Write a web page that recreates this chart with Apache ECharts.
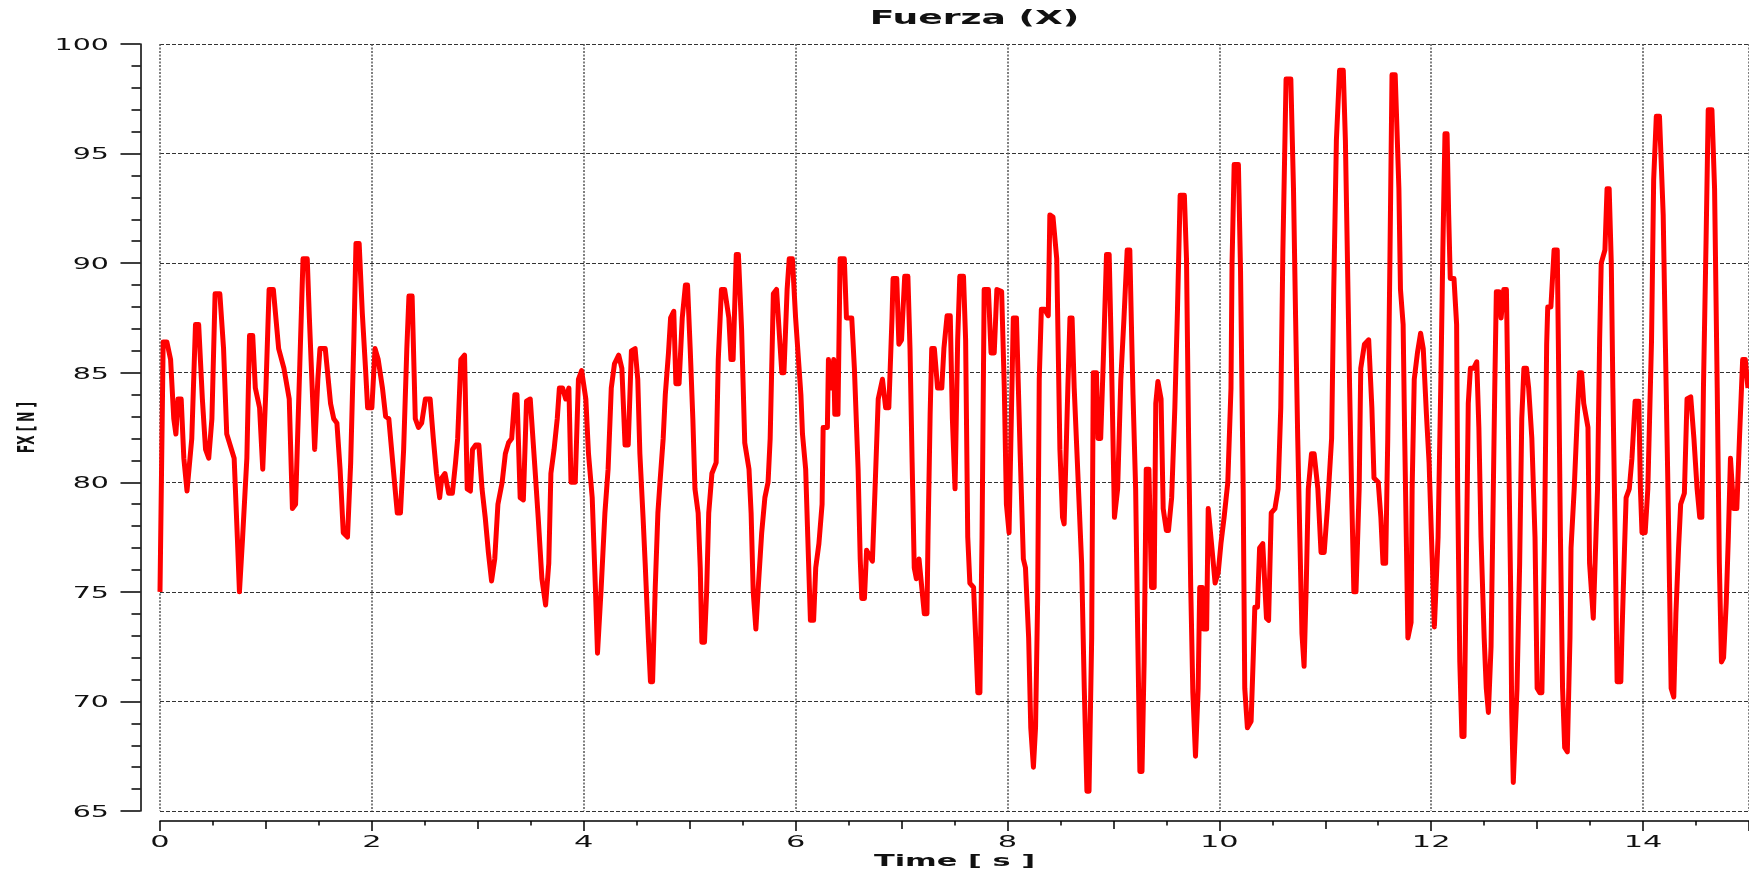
<!DOCTYPE html>
<html>
<head>
<meta charset="utf-8">
<title>Fuerza (X)</title>
<script src="https://cdn.jsdelivr.net/npm/echarts@6/dist/echarts.min.js"></script>
<style>
    html, body { margin: 0; padding: 0; background: #fff; }
    #chart { width: 1749px; height: 877px; }
</style>
</head>
<body>
<div id="chart"></div>
<script>
// force trace (t in s, FX in N)
const time = [
    0, 0.03, 0.065, 0.1, 0.13, 0.15, 0.17, 0.2, 0.225, 0.255,
    0.27, 0.3, 0.335, 0.365, 0.4, 0.43, 0.46, 0.49, 0.52, 0.565,
    0.6, 0.63, 0.7, 0.73, 0.75, 0.78, 0.82, 0.845, 0.875, 0.9,
    0.94, 0.97, 1.0, 1.03, 1.07, 1.12, 1.17, 1.22, 1.25, 1.28,
    1.32, 1.35, 1.39, 1.41, 1.46, 1.49, 1.51, 1.56, 1.61, 1.64,
    1.67, 1.7, 1.73, 1.77, 1.8, 1.83, 1.85, 1.88, 1.91, 1.94,
    1.96, 2.0, 2.03, 2.06, 2.1, 2.13, 2.16, 2.21, 2.24, 2.27,
    2.3, 2.33, 2.35, 2.38, 2.41, 2.44, 2.47, 2.505, 2.55, 2.58,
    2.61, 2.64, 2.66, 2.69, 2.725, 2.76, 2.79, 2.81, 2.84, 2.875,
    2.9, 2.93, 2.95, 2.98, 3.01, 3.04, 3.07, 3.1, 3.13, 3.16,
    3.19, 3.23, 3.26, 3.29, 3.32, 3.35, 3.37, 3.4, 3.43, 3.46,
    3.495, 3.54, 3.57, 3.605, 3.64, 3.67, 3.69, 3.72, 3.75, 3.77,
    3.8, 3.83, 3.86, 3.88, 3.92, 3.95, 3.98, 4.02, 4.045, 4.08,
    4.11, 4.13, 4.165, 4.2, 4.23, 4.26, 4.29, 4.33, 4.36, 4.39,
    4.42, 4.45, 4.485, 4.51, 4.53, 4.56, 4.58, 4.61, 4.63, 4.65,
    4.675, 4.7, 4.72, 4.75, 4.77, 4.8, 4.82, 4.85, 4.87, 4.9,
    4.93, 4.96, 4.98, 5.005, 5.03, 5.05, 5.08, 5.1, 5.115, 5.14,
    5.16, 5.18, 5.21, 5.25, 5.27, 5.3, 5.33, 5.37, 5.39, 5.41,
    5.44, 5.46, 5.49, 5.52, 5.56, 5.58, 5.6, 5.625, 5.65, 5.68,
    5.71, 5.74, 5.76, 5.79, 5.82, 5.85, 5.87, 5.89, 5.92, 5.94,
    5.97, 6.0, 6.03, 6.05, 6.065, 6.095, 6.115, 6.14, 6.17, 6.19,
    6.22, 6.25, 6.26, 6.3, 6.31, 6.335, 6.36, 6.37, 6.4, 6.42,
    6.46, 6.48, 6.53, 6.555, 6.59, 6.61, 6.625, 6.65, 6.67, 6.725,
    6.75, 6.78, 6.82, 6.85, 6.88, 6.91, 6.92, 6.955, 6.975, 7.0,
    7.03, 7.06, 7.08, 7.1, 7.12, 7.14, 7.165, 7.18, 7.215, 7.24,
    7.25, 7.27, 7.285, 7.31, 7.34, 7.38, 7.4, 7.43, 7.46, 7.48,
    7.505, 7.53, 7.55, 7.585, 7.605, 7.625, 7.645, 7.68, 7.7, 7.72,
    7.74, 7.76, 7.78, 7.82, 7.845, 7.875, 7.9, 7.945, 7.97, 7.99,
    8.015, 8.03, 8.055, 8.085, 8.12, 8.15, 8.17, 8.2, 8.22, 8.245,
    8.265, 8.285, 8.3, 8.32, 8.35, 8.385, 8.4, 8.43, 8.465, 8.495,
    8.52, 8.535, 8.57, 8.59, 8.61, 8.63, 8.66, 8.7, 8.725, 8.75,
    8.77, 8.795, 8.81, 8.84, 8.855, 8.88, 8.905, 8.935, 8.96, 8.98,
    9.01, 9.04, 9.07, 9.1, 9.13, 9.155, 9.17, 9.185, 9.21, 9.23,
    9.25, 9.27, 9.29, 9.31, 9.335, 9.36, 9.385, 9.4, 9.42, 9.45,
    9.47, 9.5, 9.52, 9.55, 9.58, 9.605, 9.63, 9.67, 9.69, 9.71,
    9.73, 9.75, 9.775, 9.8, 9.815, 9.84, 9.85, 9.88, 9.895, 9.91,
    9.93, 9.96, 9.99, 10.015, 10.045, 10.08, 10.11, 10.12, 10.14, 10.18,
    10.2, 10.225, 10.24, 10.265, 10.3, 10.32, 10.335, 10.36, 10.38, 10.41,
    10.445, 10.465, 10.49, 10.525, 10.555, 10.58, 10.6, 10.63, 10.675, 10.7,
    10.72, 10.74, 10.76, 10.78, 10.8, 10.82, 10.84, 10.87, 10.895, 10.93,
    10.96, 10.99, 11.02, 11.06, 11.08, 11.105, 11.135, 11.17, 11.19, 11.21,
    11.23, 11.25, 11.27, 11.29, 11.32, 11.335, 11.37, 11.41, 11.44, 11.46,
    11.5, 11.525, 11.545, 11.57, 11.59, 11.61, 11.63, 11.66, 11.695, 11.71,
    11.735, 11.75, 11.765, 11.78, 11.81, 11.82, 11.84, 11.87, 11.9, 11.925,
    11.955, 11.98, 12.0, 12.03, 12.065, 12.09, 12.11, 12.13, 12.15, 12.165,
    12.18, 12.215, 12.24, 12.25, 12.27, 12.29, 12.31, 12.33, 12.35, 12.37,
    12.4, 12.43, 12.45, 12.47, 12.5, 12.52, 12.54, 12.565, 12.58, 12.6,
    12.615, 12.64, 12.66, 12.685, 12.71, 12.73, 12.75, 12.76, 12.775, 12.79,
    12.81, 12.835, 12.855, 12.875, 12.9, 12.92, 12.95, 12.98, 13.0, 13.025,
    13.045, 13.07, 13.09, 13.1, 13.13, 13.16, 13.19, 13.2, 13.22, 13.24,
    13.26, 13.285, 13.31, 13.32, 13.35, 13.38, 13.4, 13.42, 13.44, 13.48,
    13.495, 13.53, 13.545, 13.57, 13.59, 13.605, 13.64, 13.66, 13.68, 13.7,
    13.715, 13.74, 13.755, 13.79, 13.8, 13.825, 13.84, 13.87, 13.895, 13.925,
    13.96, 13.975, 13.99, 14.02, 14.045, 14.08, 14.1, 14.125, 14.155, 14.19,
    14.21, 14.235, 14.25, 14.265, 14.29, 14.31, 14.335, 14.355, 14.39, 14.415,
    14.45, 14.48, 14.51, 14.535, 14.555, 14.57, 14.595, 14.615, 14.65, 14.675,
    14.7, 14.72, 14.74, 14.76, 14.785, 14.805, 14.825, 14.84, 14.855, 14.885,
    14.91, 14.94, 14.965, 14.99
];

const fx = [
    75.0, 86.4, 86.4, 85.6, 82.9, 82.2, 83.8, 83.8, 81.1, 79.6,
    79.6, 82.0, 87.2, 87.2, 83.8, 81.5, 81.1, 82.9, 88.6, 88.6,
    86.1, 82.2, 81.1, 77.5, 75.0, 77.5, 81.1, 86.7, 86.7, 84.3,
    83.4, 80.6, 84.3, 88.8, 88.8, 86.1, 85.2, 83.8, 78.8, 79.0,
    85.4, 90.2, 90.2, 87.5, 81.5, 84.7, 86.1, 86.1, 83.6, 82.9,
    82.7, 80.6, 77.7, 77.5, 80.9, 86.5, 90.9, 90.9, 87.7, 85.2,
    83.4, 83.4, 86.1, 85.6, 84.3, 83.0, 82.9, 80.2, 78.6, 78.6,
    81.5, 86.1, 88.5, 88.5, 82.9, 82.5, 82.7, 83.8, 83.8, 82.0,
    80.4, 79.3, 80.2, 80.4, 79.5, 79.5, 80.9, 82.0, 85.6, 85.8,
    79.7, 79.6, 81.5, 81.7, 81.7, 79.7, 78.4, 76.8, 75.5, 76.5,
    79.0, 80.0, 81.3, 81.8, 82.0, 84.0, 84.0, 79.3, 79.2, 83.7,
    83.8, 80.6, 78.4, 75.6, 74.4, 76.3, 80.4, 81.5, 82.9, 84.3,
    84.3, 83.8, 84.3, 80.0, 80.0, 84.7, 85.1, 83.8, 81.3, 79.3,
    75.2, 72.2, 75.2, 78.6, 80.6, 84.3, 85.4, 85.8, 85.2, 81.7,
    81.7, 86.0, 86.1, 84.7, 81.3, 78.4, 76.3, 72.9, 70.9, 70.9,
    75.2, 78.6, 80.0, 82.0, 84.0, 85.9, 87.5, 87.8, 84.5, 84.5,
    87.5, 89.0, 89.0, 86.1, 82.9, 79.7, 78.6, 76.1, 72.7, 72.7,
    75.0, 78.6, 80.4, 80.9, 85.6, 88.8, 88.8, 87.5, 85.6, 85.6,
    90.4, 90.4, 87.0, 81.8, 80.6, 78.6, 75.0, 73.3, 75.4, 77.7,
    79.3, 80.0, 82.0, 88.6, 88.8, 86.5, 85.0, 85.0, 88.8, 90.2,
    90.2, 87.5, 85.4, 84.0, 82.2, 80.6, 77.5, 73.7, 73.7, 76.1,
    77.2, 79.0, 82.5, 82.5, 85.6, 84.3, 85.6, 83.1, 83.1, 90.2,
    90.2, 87.5, 87.5, 85.2, 80.6, 76.5, 74.7, 74.7, 76.9, 76.4,
    79.7, 83.8, 84.7, 83.4, 83.4, 87.5, 89.3, 89.3, 86.3, 86.5,
    89.4, 89.4, 86.1, 80.9, 76.1, 75.6, 76.5, 76.5, 74.0, 74.0,
    77.5, 83.1, 86.1, 86.1, 84.3, 84.3, 86.1, 87.6, 87.6, 82.9,
    79.7, 86.5, 89.4, 89.4, 86.5, 77.5, 75.4, 75.2, 72.9, 70.4,
    70.4, 77.5, 88.8, 88.8, 85.9, 85.9, 88.8, 88.7, 84.3, 79.0,
    77.7, 77.7, 87.5, 87.5, 81.3, 76.5, 76.1, 72.9, 68.8, 67.0,
    68.8, 74.7, 84.7, 87.9, 87.9, 87.6, 92.2, 92.1, 90.2, 81.5,
    78.4, 78.1, 84.3, 87.5, 87.5, 84.3, 80.9, 76.3, 70.6, 65.9,
    65.9, 72.9, 85.0, 85.0, 82.0, 82.0, 85.6, 90.4, 90.4, 86.1,
    78.4, 79.7, 84.7, 87.5, 90.6, 90.6, 87.2, 84.0, 79.7, 72.9,
    66.8, 66.8, 71.8, 80.6, 80.6, 75.2, 75.2, 83.6, 84.6, 83.8,
    78.8, 77.8, 77.8, 79.3, 83.4, 87.9, 93.1, 93.1, 90.2, 82.0,
    75.2, 70.4, 67.5, 70.6, 75.2, 75.2, 73.3, 73.3, 78.8, 78.8,
    77.0, 75.4, 75.9, 77.2, 78.4, 80.0, 84.3, 90.0, 94.5, 94.5,
    89.7, 79.7, 70.6, 68.8, 69.1, 72.0, 74.3, 74.3, 77.0, 77.2,
    73.8, 73.7, 78.6, 78.8, 79.7, 83.4, 90.6, 98.4, 98.4, 93.4,
    87.5, 82.0, 77.5, 73.1, 71.6, 75.2, 79.7, 81.3, 81.3, 79.7,
    76.8, 76.8, 78.8, 82.0, 88.8, 95.6, 98.8, 98.8, 95.6, 90.0,
    84.3, 79.3, 75.0, 75.0, 79.7, 85.2, 86.3, 86.5, 83.4, 80.2,
    80.0, 78.4, 76.3, 76.3, 82.0, 90.0, 98.6, 98.6, 93.4, 88.8,
    87.2, 82.0, 77.5, 72.9, 73.6, 79.7, 84.7, 85.9, 86.8, 86.1,
    83.1, 80.9, 77.9, 73.4, 77.5, 84.3, 90.6, 95.9, 95.9, 92.2,
    89.3, 89.3, 87.2, 79.7, 71.8, 68.4, 68.4, 75.6, 83.6, 85.2,
    85.2, 85.5, 82.5, 77.5, 72.9, 70.6, 69.5, 72.5, 77.5, 84.3,
    88.7, 88.7, 87.5, 88.8, 88.8, 82.0, 75.2, 69.5, 66.3, 66.3,
    70.6, 76.3, 82.9, 85.2, 85.2, 84.3, 82.0, 77.5, 70.6, 70.4,
    70.4, 77.5, 86.3, 88.0, 88.0, 90.6, 90.6, 86.5, 77.5, 70.6,
    67.9, 67.7, 72.9, 77.0, 79.7, 83.1, 85.0, 85.0, 83.6, 82.5,
    76.3, 73.8, 73.8, 79.7, 86.5, 90.0, 90.6, 93.4, 93.4, 90.0,
    84.3, 76.3, 70.9, 70.9, 72.9, 77.0, 79.3, 79.7, 81.1, 83.7,
    83.7, 79.7, 77.7, 77.7, 79.7, 86.5, 93.8, 96.7, 96.7, 92.2,
    86.5, 79.7, 75.2, 70.6, 70.2, 74.0, 77.0, 79.0, 79.5, 83.8,
    83.9, 82.0, 79.7, 78.4, 78.4, 84.3, 91.1, 97.0, 97.0, 93.4,
    84.3, 76.3, 71.8, 72.0, 74.5, 77.5, 81.1, 81.1, 78.8, 78.8,
    82.0, 85.6, 85.6, 84.3
];

const xTickLabels = [0, 2, 4, 6, 8, 10, 12, 14];
const yTickLabels = [65, 70, 75, 80, 85, 90, 95, 100];

const chartTitle = 'Fuerza (X)';
const xName = 'Time [ s ]';
const yName = 'FX [ N ]';

// the reference is a screenshot stretched sideways, its lettering is wide
const STRETCH = 1.9;
const FONT = '"DejaVu Sans", Verdana, sans-serif';
const INK = '#111';

const chartDom = document.getElementById('chart');
const chart = echarts.init(chartDom);

const tickOnlyAxis = (interval, length) => ({
    type: 'value',
    min: 0,
    max: 15,
    interval: interval,
    position: 'bottom',
    offset: 10,
    axisLine: { show: false },
    axisTick: { show: true, length: length, lineStyle: { color: '#000', width: 1.5 } },
    axisLabel: { show: false },
    splitLine: { show: false }
});

const options = {
    backgroundColor: '#fff',
    animation: false,
    grid: {
        left: 160,
        right: 0,
        top: 44,
        bottom: 66,
        containLabel: false,
        outerBoundsMode: 'none'
    },
    xAxis: [
        {
            type: 'value',
            min: 0,
            max: 15,
            interval: 2,
            position: 'bottom',
            offset: 10,
            axisLine: { show: true, onZero: false, lineStyle: { color: '#000', width: 1.5 } },
            axisTick: { show: true, length: 10, lineStyle: { color: '#000', width: 1.5 } },
            axisLabel: { show: false },
            splitLine: {
                show: true,
                lineStyle: { color: '#555', width: 1.5, type: [2, 1.5] }
            }
        },
        tickOnlyAxis(1, 8),
        tickOnlyAxis(0.5, 4.5)
    ],
    yAxis: {
        type: 'value',
        min: 65,
        max: 100,
        interval: 5,
        offset: 19.5,
        axisLine: { show: true, onZero: false, lineStyle: { color: '#000', width: 1.5 } },
        axisTick: { show: true, length: 20, lineStyle: { color: '#000', width: 1.5 } },
        minorTick: { show: true, splitNumber: 5, length: 9, lineStyle: { color: '#000', width: 1.5 } },
        axisLabel: { show: false },
        splitLine: {
            show: true,
            lineStyle: { color: '#333', width: 1, type: [4, 2] }
        }
    },
    series: [
        {
            type: 'line',
            xAxisIndex: 0,
            data: time.map((t, i) => [t, fx[i]]),
            symbol: 'none',
            showSymbol: false,
            lineStyle: { color: '#ff0000', width: 5, join: 'round' },
            emphasis: { disabled: true }
        }
    ]
};

chart.setOption(options);

const wideText = (text, x, y, size, weight, align) => ({
    type: 'text',
    x: x,
    y: y,
    scaleX: STRETCH,
    silent: true,
    style: {
        text: text,
        fill: INK,
        fontSize: size,
        fontWeight: weight,
        fontFamily: FONT,
        align: align,
        textAlign: align,
        verticalAlign: 'middle',
        textVerticalAlign: 'middle'
    }
});

const drawTexts = () => {
    const px = v => chart.convertToPixel({ xAxisIndex: 0 }, v);
    const py = v => chart.convertToPixel({ yAxisIndex: 0 }, v);
    const left = px(0);
    const right = px(15);
    const top = py(100);
    const bottom = py(65);
    const elements = [];

    yTickLabels.forEach(v => {
        elements.push(wideText(String(v), left - 51, py(v) + 2, 15, 'normal', 'right'));
    });
    xTickLabels.forEach(v => {
        elements.push(wideText(String(v), px(v), bottom + 32, 16, 'normal', 'center'));
    });

    elements.push(wideText(chartTitle, (left + right) / 2 + 20, top - 25, 19, 'bold', 'center'));
    elements.push(wideText(xName, (left + right) / 2, bottom + 51, 16, 'bold', 'center'));

    const yLabel = wideText(yName, 28, (top + bottom) / 2, 12, 'bold', 'center');
    yLabel.rotation = Math.PI / 2;
    yLabel.scaleX = 1;
    yLabel.scaleY = STRETCH;
    elements.push(yLabel);

    chart.setOption({ graphic: { elements: elements } });
};

drawTexts();
</script>
</body>
</html>
